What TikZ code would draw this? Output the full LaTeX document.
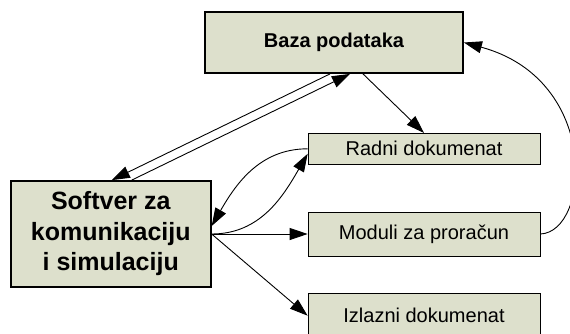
\documentclass[tikz,border=0pt]{standalone}
\usepackage{fontspec}
\setmainfont{Liberation Sans}
\usetikzlibrary{positioning, arrows.meta}
\definecolor{boxfill}{RGB}{221,224,204}

\begin{document}
\begin{tikzpicture}[x=1pt, y=1pt, ->, >={Triangle[length=18pt, width=12pt]}, line width=0.9pt,
    bigbox/.style={draw, rectangle, fill=boxfill, line width=1.8pt, inner sep=0pt},
    smallbox/.style={draw, rectangle, fill=boxfill, line width=0.7pt, inner sep=0pt,
      minimum width=232pt, font=\fontsize{20}{24}\selectfont}]
  \useasboundingbox (0, 0) rectangle (570, -333);

  \node[bigbox, minimum width=258pt, minimum height=61pt,
    font=\bfseries\fontsize{20}{24}\selectfont] at (334, -42.5) (baza) {Baza podataka};
  \node[smallbox, minimum height=44pt] at (424, -234) (moduli) {Moduli za proračun};
  \node[smallbox, minimum height=31pt, above = 47pt of moduli] (radni) {Radni dokumenat};
  \node[smallbox, minimum height=44pt, below = 37pt of moduli] (izlazni) {Izlazni dokumenat};
  \node[bigbox, minimum width=200pt, minimum height=106pt, left = 96pt of moduli, align=center,
    font=\bfseries\fontsize{25}{30.5}\selectfont] (softver) {Softver za\\komunikaciju\\i simulaciju};

  \draw ([xshift=-4pt]baza.south) -- ([xshift=1pt]softver.north);
  \draw ([xshift=21pt]softver.north) -- ([xshift=16pt]baza.south);
  \draw ([xshift=29pt]baza.south) -- (radni.north);
  \draw (radni.west) to[out=180, in=60] ([yshift=8pt]softver.east);
  \draw (softver.east) to[out=0, in=240] ([yshift=-5pt]radni.west);
  \draw (softver.east) -- (moduli.west);
  \draw (softver.east) -- (izlazni.west);
  \draw (moduli.east) .. controls +(50, 2) and +(137, -37) .. (baza.east);
\end{tikzpicture}
\end{document}
